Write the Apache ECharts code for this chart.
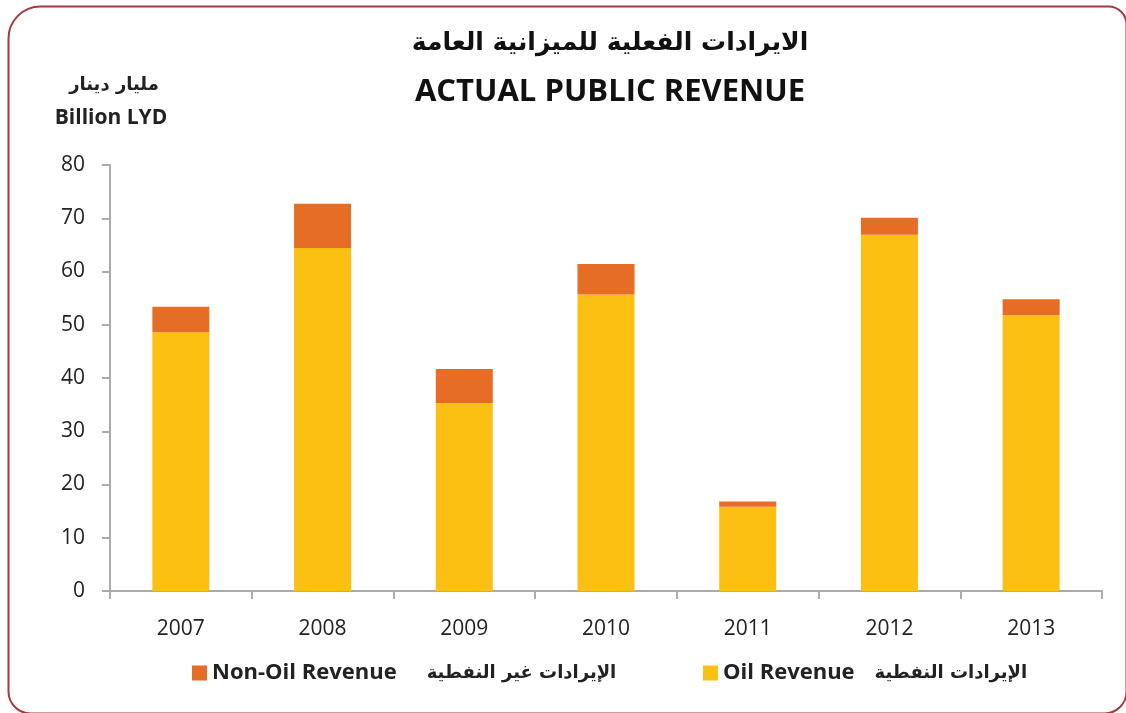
<!DOCTYPE html>
<html>
<head>
<meta charset="utf-8">
<script src="https://cdn.jsdelivr.net/npm/echarts@6/dist/echarts.min.js"></script>
<style>html,body{margin:0;padding:0;background:#fff;}#c{width:1126px;height:713px;}</style>
</head>
<body>
<div id="c"></div>
<script>
var years = ['2007', '2008', '2009', '2010', '2011', '2012', '2013'];
var oilRevenue = [48.6, 64.4, 35.3, 55.7, 15.8, 66.9, 51.8];
var nonOilRevenue = [4.8, 8.3, 6.4, 5.7, 1.0, 3.2, 3.0];
var yTicks = { min: 0, max: 80, interval: 10 };

var titleAr = 'الايرادات الفعلية للميزانية العامة';
var titleEn = 'ACTUAL PUBLIC REVENUE';
var unitAr = 'مليار دينار';
var unitEn = 'Billion LYD';
var nameOilEn = 'Oil Revenue', nameOilAr = 'الإيرادات النفطية';
var nameNonOilEn = 'Non-Oil Revenue', nameNonOilAr = 'الإيرادات غير النفطية';

var OIL = '#FBC012', NONOIL = '#E56D25', AXIS = '#ABABAB', TXT = '#222222';
var LAT = '"Open Sans", "Liberation Sans", sans-serif';
var AR = '"DejaVu Sans", "Noto Sans", sans-serif';

var chart = echarts.init(document.getElementById('c'), null, { renderer: 'canvas' });

function legendFmt(ar) {
  return function (name) { return '{en|' + name + '}{ar|' + ar + '}'; };
}
function legendRich(gap) {
  return {
    en: { fontFamily: LAT, fontWeight: 'bold', fontSize: 22, color: TXT },
    ar: { fontFamily: AR, fontWeight: 'bold', fontSize: 18, color: TXT, padding: [0, 0, 0, gap] }
  };
}

chart.setOption({
  animation: false,
  backgroundColor: '#fff',
  grid: { left: 110, right: 24, top: 165, bottom: 122, containLabel: false },
  legend: [
    {
      data: [nameNonOilEn], left: 187, top: 657, itemWidth: 15, itemHeight: 15, icon: 'rect',
      selectedMode: false, formatter: legendFmt(nameNonOilAr),
      textStyle: { rich: legendRich(30) }
    },
    {
      data: [nameOilEn], left: 698, top: 657, itemWidth: 15, itemHeight: 15, icon: 'rect',
      selectedMode: false, formatter: legendFmt(nameOilAr),
      textStyle: { rich: legendRich(20) }
    }
  ],
  xAxis: {
    type: 'category',
    data: years,
    axisLine: { lineStyle: { color: AXIS, width: 2 } },
    axisTick: { show: true, length: 8, alignWithLabel: false, lineStyle: { color: AXIS, width: 2 } },
    axisLabel: { fontFamily: LAT, fontSize: 21, color: TXT, margin: 28 }
  },
  yAxis: {
    type: 'value',
    min: yTicks.min, max: yTicks.max, interval: yTicks.interval,
    splitLine: { show: false },
    axisLine: { show: true, lineStyle: { color: AXIS, width: 2 } },
    axisTick: { show: true, length: 8, lineStyle: { color: AXIS, width: 2 } },
    axisLabel: { fontFamily: LAT, fontSize: 21, color: TXT, margin: 25 }
  },
  series: [
    {
      name: nameOilEn, type: 'bar', stack: 'total', data: oilRevenue, barWidth: 57,
      itemStyle: { color: OIL }
    },
    {
      name: nameNonOilEn, type: 'bar', stack: 'total', data: nonOilRevenue, barWidth: 57,
      itemStyle: { color: NONOIL }
    }
  ],
  graphic: [
    {
      type: 'rect', left: 6, top: 4, silent: true, z: -1,
      shape: { x: 0, y: 0, width: 1118, height: 707, r: [32, 18, 22, 22] },
      style: { fill: 'none', stroke: '#A23A3E', lineWidth: 2 }
    },
    {
      type: 'text', x: 610, y: 43,
      style: { text: titleAr, font: 'bold 25px ' + AR, fill: '#111', align: 'center', verticalAlign: 'middle' }
    },
    {
      type: 'text', x: 610, y: 92,
      style: { text: titleEn, font: 'bold 31px ' + LAT, fill: '#111', align: 'center', verticalAlign: 'middle' }
    },
    {
      type: 'text', x: 114, y: 85,
      style: { text: unitAr, font: 'bold 18px ' + AR, fill: TXT, align: 'center', verticalAlign: 'middle' }
    },
    {
      type: 'text', x: 111, y: 118,
      style: { text: unitEn, font: 'bold 21px ' + LAT, fill: TXT, align: 'center', verticalAlign: 'middle' }
    }
  ]
});
</script>
</body>
</html>
